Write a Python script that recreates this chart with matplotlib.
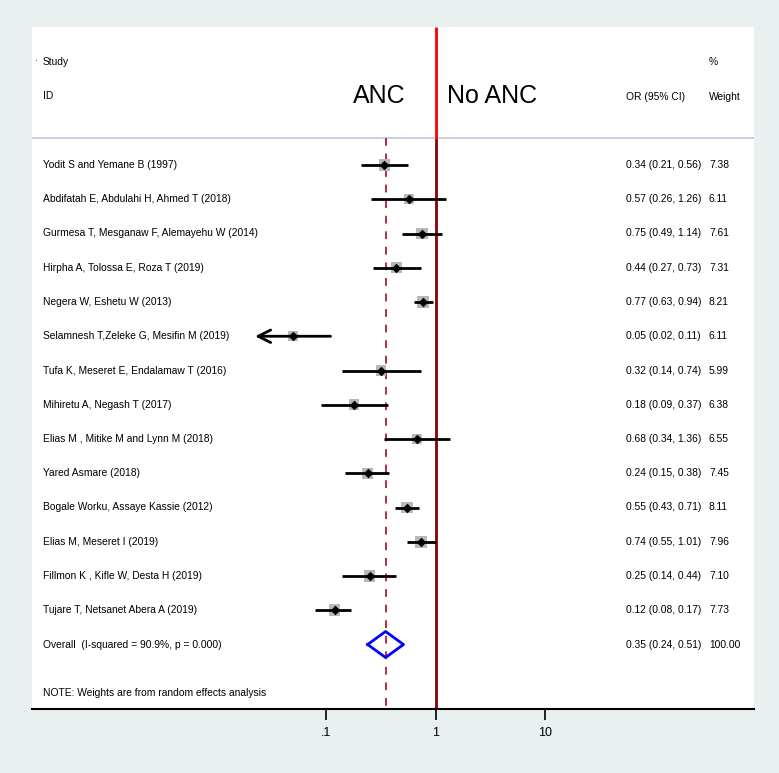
import matplotlib
matplotlib.use("Agg")
import matplotlib.pyplot as plt
import numpy as np

plt.rcParams['font.family'] = ['Liberation Sans', 'DejaVu Sans']

studies = [
    "Yodit S and Yemane B (1997)",
    "Abdifatah E, Abdulahi H, Ahmed T (2018)",
    "Gurmesa T, Mesganaw F, Alemayehu W (2014)",
    "Hirpha A, Tolossa E, Roza T (2019)",
    "Negera W, Eshetu W (2013)",
    "Selamnesh T,Zeleke G, Mesifin M (2019)",
    "Tufa K, Meseret E, Endalamaw T (2016)",
    "Mihiretu A, Negash T (2017)",
    "Elias M , Mitike M and Lynn M (2018)",
    "Yared Asmare (2018)",
    "Bogale Worku, Assaye Kassie (2012)",
    "Elias M, Meseret I (2019)",
    "Fillmon K , Kifle W, Desta H (2019)",
    "Tujare T, Netsanet Abera A (2019)",
]
or_est = [0.34, 0.57, 0.75, 0.44, 0.77, 0.05, 0.32, 0.18, 0.68, 0.24, 0.55, 0.74, 0.25, 0.12]
ci_lo  = [0.21, 0.26, 0.49, 0.27, 0.63, 0.02, 0.14, 0.09, 0.34, 0.15, 0.43, 0.55, 0.14, 0.08]
ci_hi  = [0.56, 1.26, 1.14, 0.73, 0.94, 0.11, 0.74, 0.37, 1.36, 0.38, 0.71, 1.01, 0.44, 0.17]
weights = [7.38, 6.11, 7.61, 7.31, 8.21, 6.11, 5.99, 6.38, 6.55, 7.45, 8.11, 7.96, 7.10, 7.73]
or_text = ["0.34 (0.21, 0.56)", "0.57 (0.26, 1.26)", "0.75 (0.49, 1.14)", "0.44 (0.27, 0.73)",
           "0.77 (0.63, 0.94)", "0.05 (0.02, 0.11)", "0.32 (0.14, 0.74)", "0.18 (0.09, 0.37)",
           "0.68 (0.34, 1.36)", "0.24 (0.15, 0.38)", "0.55 (0.43, 0.71)", "0.74 (0.55, 1.01)",
           "0.25 (0.14, 0.44)", "0.12 (0.08, 0.17)"]
weight_text = ["7.38", "6.11", "7.61", "7.31", "8.21", "6.11", "5.99", "6.38", "6.55", "7.45",
               "8.11", "7.96", "7.10", "7.73"]
overall_label = "Overall  (I-squared = 90.9%, p = 0.000)"
overall_est, overall_lo, overall_hi = 0.35, 0.24, 0.51
overall_text = "0.35 (0.24, 0.51)"
overall_weight = "100.00"
xtick_vals = [0.1, 1, 10]
xtick_labels = [".1", "1", "10"]
clip_lo = 0.0225

# ---- layout (pixel units) ----
W, H = 779, 773
PL, PR, PT, PB = 32, 754, 27, 709
X01, X1 = 326.0, 435.5   # pixel positions of 0.1 and 1
dec = X1 - X01
lx0 = -1 - (X01 - PL) / dec
lx1 = -1 + (PR - X01) / dec
Y0, DY = 165.0, 34.25
SEP = 138

bg = "#e8f0f0"
fig = plt.figure(figsize=(W / 100, H / 100), dpi=100, facecolor=bg)
ax = fig.add_axes([PL / W, 1 - PB / H, (PR - PL) / W, (PB - PT) / H])
ax.set_facecolor("white")
ax.set_xscale("log")
ax.set_xlim(10 ** lx0, 10 ** lx1)
ax.set_ylim(PB, PT)
for s in ["top", "left", "right"]:
    ax.spines[s].set_visible(False)
ax.spines["bottom"].set_linewidth(1.5)
ax.spines["bottom"].set_color("black")
ax.set_yticks([])
ax.set_xticks(xtick_vals)
ax.set_xticklabels(xtick_labels, fontsize=9)
ax.xaxis.set_minor_locator(matplotlib.ticker.NullLocator())
ax.tick_params(axis="x", direction="out", length=8, width=1.2, pad=5, color="black")

# separator line
ax.axhline(SEP, color="#c4c4e0", lw=1.2)
# null line
ax.plot([1, 1], [PT, SEP], color="#ff0000", lw=2, solid_capstyle="butt")
ax.plot([1, 1], [SEP, PB], color="#8b0000", lw=2, solid_capstyle="butt")
# overall dashed line
ax.plot([overall_est, overall_est], [SEP, PB], color="#b03040", lw=1.4, ls=(0, (4, 4)))

rows = Y0 + DY * np.arange(len(studies))
for i, y in enumerate(rows):
    lo = max(ci_lo[i], clip_lo)
    if ci_lo[i] < clip_lo:
        ax.annotate("", xy=(clip_lo, y), xytext=(ci_hi[i], y),
                    arrowprops=dict(arrowstyle="->,head_length=0.9,head_width=0.45",
                                    lw=2, color="black", shrinkA=0, shrinkB=0))
    else:
        ax.plot([lo, ci_hi[i]], [y, y], color="black", lw=2, solid_capstyle="butt", zorder=3)
ax.scatter(or_est, rows, s=np.array(weights) * 9, marker="s", color="#b8b8b8", zorder=2,
           linewidths=0)
ax.scatter(or_est, rows, s=24, marker="D", color="black", zorder=4, linewidths=0)

# overall diamond
yo = Y0 + DY * len(studies)
dh = 13
ax.plot([overall_lo, overall_est, overall_hi, overall_est, overall_lo],
        [yo, yo - dh, yo, yo + dh, yo], color="#0000ff", lw=2, zorder=4)

# text overlay
lay = fig.add_axes([0, 0, 1, 1], facecolor="none")
lay.set_xlim(0, W)
lay.set_ylim(H, 0)
lay.axis("off")
fs = 7.4
XL, XOR, XW = 43, 626, 709
lay.text(36, 62, "·", fontsize=6, va="center", ha="center")
lay.text(XL, 62, "Study", fontsize=fs, va="center")
lay.text(XL, 96, "ID", fontsize=fs, va="center")
lay.text(XW, 62, "%", fontsize=fs, va="center")
lay.text(XW, 97, "Weight", fontsize=fs, va="center")
lay.text(XOR, 97, "OR (95% CI)", fontsize=fs, va="center")
lay.text(406, 96, "ANC", fontsize=18, va="center", ha="right")
lay.text(447, 96, "No ANC", fontsize=18, va="center", ha="left")
for i, y in enumerate(rows):
    lay.text(XL, y, studies[i], fontsize=fs, va="center")
    lay.text(XOR, y, or_text[i], fontsize=fs, va="center")
    lay.text(XW, y, weight_text[i], fontsize=fs, va="center")
lay.text(XL, yo, overall_label, fontsize=fs, va="center")
lay.text(XOR, yo, overall_text, fontsize=fs, va="center")
lay.text(XW, yo, overall_weight, fontsize=fs, va="center")
lay.text(XL, 693, "NOTE: Weights are from random effects analysis", fontsize=fs, va="center")

fig.savefig("out.png", dpi=100, facecolor=bg)
